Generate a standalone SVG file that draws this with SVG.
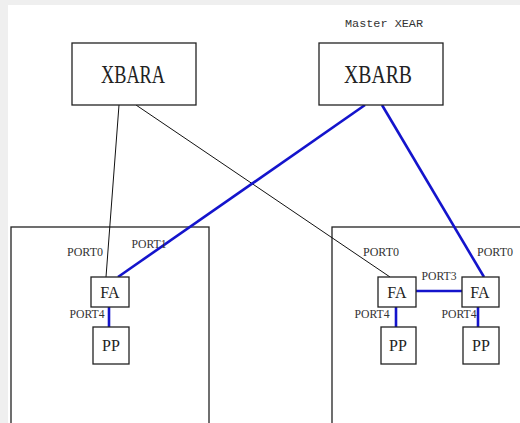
<svg xmlns="http://www.w3.org/2000/svg" width="520" height="423" viewBox="0 0 520 423">
<style>
.box{fill:#fff;stroke:#222;stroke-width:1.3}
.big{fill:none;stroke:#222;stroke-width:1.3}
.lbl{font-family:"Liberation Serif",serif;fill:#222;text-anchor:middle}
.port{font-family:"Liberation Serif",serif;font-size:11.5px;fill:#333;text-anchor:middle}
.mono{font-family:"Liberation Mono",monospace;font-size:10px;fill:#333;text-anchor:middle}
.blk{stroke:#111;stroke-width:1;fill:none}
.blu{stroke:#1414cc;stroke-width:2.6;fill:none}
</style>
<rect x="0" y="0" width="520" height="423" fill="#efefef"/>
<rect x="8" y="5" width="512" height="418" fill="#fff"/>
<g id="groupLeft"><rect class="big" x="11" y="227" width="198" height="200"/></g>
<g id="groupRight"><rect class="big" x="332" y="227" width="200" height="200"/></g>
<g id="connectors">
<line class="blk" x1="119" y1="105" x2="106" y2="277"/>
<line class="blk" x1="136" y1="105" x2="390" y2="277"/>
<line class="blu" x1="365" y1="105" x2="118" y2="277"/>
<line class="blu" x1="382" y1="105" x2="484" y2="277"/>
<line class="blu" x1="416" y1="291" x2="462" y2="291"/>
<line class="blu" x1="109" y1="307" x2="109" y2="327"/>
<line class="blu" x1="396" y1="307" x2="396" y2="327"/>
<line class="blu" x1="478" y1="307" x2="478" y2="327"/>
</g>
<g id="XBARA"><rect class="box" x="72" y="43" width="124" height="62"/><text class="lbl" x="133" y="83" font-size="25" textLength="64" lengthAdjust="spacingAndGlyphs">XBARA</text></g>
<g id="XBARB"><rect class="box" x="319" y="43" width="124" height="62"/><text class="lbl" x="378" y="83" font-size="25" textLength="68" lengthAdjust="spacingAndGlyphs">XBARB</text><text class="mono" x="384" y="27" textLength="78" lengthAdjust="spacingAndGlyphs">Master XEAR</text></g>
<g id="FA-left"><rect class="box" x="91" y="277" width="38" height="30"/><text class="lbl" x="110" y="297.5" font-size="16">FA</text></g>
<g id="PP-left"><rect class="box" x="93" y="327" width="36" height="37"/><text class="lbl" x="111" y="351" font-size="16">PP</text></g>
<g id="FA-right1"><rect class="box" x="378" y="277" width="38" height="30"/><text class="lbl" x="397" y="297.5" font-size="16">FA</text></g>
<g id="FA-right2"><rect class="box" x="462" y="277" width="37" height="30"/><text class="lbl" x="480" y="297.5" font-size="16">FA</text></g>
<g id="PP-right1"><rect class="box" x="381" y="327" width="35" height="37"/><text class="lbl" x="398" y="351" font-size="16">PP</text></g>
<g id="PP-right2"><rect class="box" x="463" y="327" width="36" height="37"/><text class="lbl" x="481" y="351" font-size="16">PP</text></g>
<g id="port-labels">
<text class="port" x="85" y="256" textLength="36" lengthAdjust="spacingAndGlyphs">PORT0</text>
<text class="port" x="149" y="248" textLength="35" lengthAdjust="spacingAndGlyphs">PORT1</text>
<text class="port" x="87" y="318" textLength="35" lengthAdjust="spacingAndGlyphs">PORT4</text>
<text class="port" x="381" y="256" textLength="36" lengthAdjust="spacingAndGlyphs">PORT0</text>
<text class="port" x="495" y="256" textLength="36" lengthAdjust="spacingAndGlyphs">PORT0</text>
<text class="port" x="439" y="280" textLength="35" lengthAdjust="spacingAndGlyphs">PORT3</text>
<text class="port" x="372" y="318" textLength="35" lengthAdjust="spacingAndGlyphs">PORT4</text>
<text class="port" x="459" y="318" textLength="35" lengthAdjust="spacingAndGlyphs">PORT4</text>
</g>
</svg>
